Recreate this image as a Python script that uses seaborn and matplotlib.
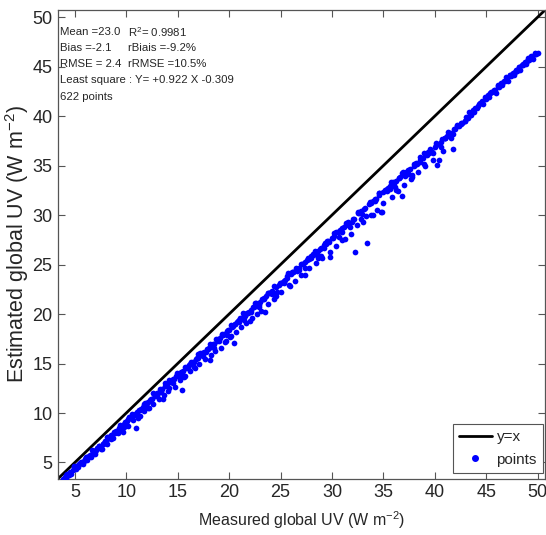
import numpy as np
import matplotlib
matplotlib.use("Agg")
import matplotlib.pyplot as plt
import seaborn as sns
import pandas as pd
from matplotlib.lines import Line2D

# Measured vs estimated global UV (W m-2)
measured_a = [
    3.8, 4.0, 4.1, 4.3, 4.5, 4.6, 4.8, 5.0, 5.1, 5.3,
    5.4, 5.6, 5.7, 5.9, 6.0, 6.2, 6.3, 6.5, 6.6, 6.8,
    6.9, 7.1, 7.2, 7.4, 7.5, 7.7, 7.8, 8.0, 8.1, 8.3,
    8.4, 8.6, 8.7, 8.9, 9.0, 9.2, 9.3, 9.5, 9.6, 9.8,
    9.9, 10.1, 10.2, 10.4, 10.5, 10.7, 10.8, 11.0, 11.1, 11.3,
    11.4, 11.6, 11.7, 11.9, 12.0, 12.2, 12.3, 12.5, 12.6, 12.8,
    12.9, 13.1, 13.2, 13.4, 13.5, 13.7, 13.8, 14.0, 14.1, 14.3,
    14.4, 14.6, 14.7, 14.9, 15.0, 15.2, 15.3, 15.5, 15.6, 15.8,
    15.9, 16.1, 16.2, 16.4, 16.5, 16.7, 16.8, 17.0, 17.1, 17.3,
    17.4, 17.6, 17.7, 17.9, 18.0, 18.2, 18.3, 18.5, 18.6, 18.8,
    18.9, 19.1, 19.2, 19.4, 19.5, 19.7, 19.8, 20.0, 20.1, 20.3,
    20.4, 20.6, 20.7, 20.9, 21.0, 21.2, 21.3, 21.5, 21.6, 21.8,
    21.9, 22.1, 22.2, 22.4, 22.5, 22.7, 22.8, 23.0, 23.1, 23.3,
    23.4, 23.6, 23.8, 24.0, 24.2, 24.4, 24.6, 24.8, 25.0, 25.2,
    25.4, 25.6, 25.8, 26.0, 26.2, 26.4, 26.6, 26.8, 27.0, 27.2,
    27.4, 27.6, 27.8, 28.0, 28.2, 28.4, 28.6, 28.8, 29.0, 29.2,
    29.4, 29.6, 29.8, 30.0, 30.2, 30.4, 30.6, 30.8, 31.0, 31.2,
    31.4, 31.6, 31.8, 32.0, 32.2, 32.4, 32.6, 32.8, 33.0, 33.2,
    33.4, 33.6, 33.8, 34.0, 34.2, 34.4, 34.6, 34.8, 35.0, 35.2,
    35.4, 35.6, 35.8, 36.0, 36.2, 36.4, 36.6, 36.8, 37.0, 37.2,
    37.4, 37.6, 37.8, 38.0, 38.2, 38.4, 38.6, 38.8, 39.0, 39.2,
    39.4, 39.6, 39.8, 40.0, 40.2, 40.4, 40.6, 40.8, 41.0, 41.2,
    41.4, 41.6, 41.8, 42.0, 42.3, 42.6, 42.9, 43.2, 43.5, 43.8,
    44.1, 44.4, 44.7, 45.0, 45.3, 45.6, 45.9, 46.2, 46.5, 46.8,
    47.1, 47.4, 47.7, 48.0, 48.3, 48.6, 48.9, 49.2, 49.5, 49.8, 50.0,
]
estimated_a = [
    3.3, 3.5, 3.4, 3.7, 4.0, 3.8, 4.2, 4.4, 4.3, 4.7,
    4.8, 5.0, 4.9, 5.2, 5.4, 5.3, 5.6, 5.8, 5.6, 6.1,
    6.2, 6.3, 6.5, 6.6, 6.4, 6.9, 7.0, 7.2, 6.9, 7.5,
    7.6, 7.8, 7.5, 8.1, 8.2, 8.0, 8.5, 8.7, 8.3, 8.9,
    9.1, 9.2, 8.7, 9.5, 9.6, 9.3, 9.9, 10.1, 9.5, 10.3,
    10.4, 10.6, 10.2, 10.9, 11.0, 10.5, 11.3, 11.4, 10.9, 11.7,
    11.8, 12.0, 11.4, 12.3, 12.4, 11.8, 12.7, 12.8, 12.2, 13.1,
    13.2, 13.4, 12.6, 13.7, 13.8, 13.3, 14.1, 14.2, 13.6, 14.5,
    14.6, 14.8, 14.2, 15.1, 15.2, 14.5, 15.5, 15.6, 15.0, 15.9,
    16.0, 16.2, 15.5, 16.5, 16.6, 15.9, 16.9, 17.0, 16.3, 17.3,
    17.4, 17.6, 16.6, 17.9, 18.0, 17.3, 18.3, 18.4, 17.7, 18.7,
    18.8, 19.0, 18.2, 19.3, 19.4, 18.7, 19.7, 19.8, 19.1, 20.1,
    20.2, 20.4, 19.6, 20.7, 20.8, 20.0, 21.0, 21.2, 20.3, 21.5,
    21.6, 21.8, 21.0, 22.1, 22.3, 21.5, 22.7, 22.9, 22.2, 23.2,
    23.4, 23.6, 22.9, 24.0, 24.2, 23.3, 24.5, 24.7, 23.9, 25.1,
    25.3, 25.5, 24.6, 25.9, 26.0, 25.2, 26.4, 26.6, 25.7, 27.0,
    27.1, 27.4, 26.3, 27.7, 27.9, 26.9, 28.3, 28.5, 27.5, 28.8,
    29.0, 29.2, 28.1, 29.6, 26.3, 29.0, 30.2, 30.4, 29.3, 30.7,
    27.2, 31.1, 30.0, 31.4, 31.6, 30.5, 32.0, 30.3, 31.2, 32.5,
    32.7, 32.9, 31.8, 33.2, 33.4, 32.4, 33.8, 31.9, 33.0, 34.3,
    34.5, 34.7, 33.8, 35.0, 35.2, 34.3, 35.6, 35.8, 35.0, 36.1,
    36.3, 36.5, 35.6, 36.9, 35.1, 37.2, 37.4, 36.5, 37.8, 38.0,
    38.2, 38.3, 36.7, 38.7, 39.0, 39.3, 39.5, 39.8, 40.1, 40.4,
    40.8, 41.3, 41.2, 41.8, 41.9, 42.4, 42.3, 42.9, 43.1, 43.5,
    43.5, 44.0, 44.1, 44.6, 44.7, 45.2, 45.3, 45.7, 45.8, 46.3, 46.4,
]

measured_b = [
    4.2, 4.4, 4.9, 5.5, 5.8, 6.1, 6.4, 6.7, 7.0, 7.3,
    7.6, 7.9, 8.2, 8.5, 8.8, 9.1, 9.4, 9.7, 10.0, 10.3,
    10.6, 10.9, 11.2, 11.5, 11.8, 12.1, 12.4, 12.7, 13.0, 13.3,
    13.6, 13.9, 14.2, 14.5, 14.8, 15.1, 15.4, 15.7, 16.0, 16.3,
    16.6, 16.9, 17.2, 17.5, 17.8, 18.1, 18.4, 18.7, 19.0, 19.3,
    19.6, 19.9, 20.2, 20.5, 20.8, 21.1, 21.4, 21.7, 22.0, 22.3,
    22.6, 22.9, 23.2, 23.5, 23.8, 24.1, 24.4, 24.7, 25.0, 25.3,
    25.6, 25.9, 26.2, 26.5, 26.8, 27.1, 27.4, 27.7, 28.0, 28.3,
    28.6, 28.9, 29.2, 29.5, 29.8, 30.1, 30.4, 30.7, 31.0, 31.3,
    31.6, 31.9, 32.5, 32.8, 33.1, 33.7, 34.0, 34.3, 34.6, 34.9,
    35.3, 35.6, 35.9, 36.2, 36.5, 36.8, 37.1, 37.4, 37.7, 38.0,
    38.3, 38.6, 38.9, 39.2, 39.5, 39.8, 40.1, 40.4, 40.7, 41.0,
    41.3, 41.6, 41.9, 42.2, 42.5, 43.0, 43.4, 43.9, 44.3, 44.6,
    44.9, 45.2, 45.5, 45.8, 46.1, 46.4, 46.7, 47.0, 47.3, 47.6,
    47.9, 48.2, 48.5, 48.8, 49.1, 49.4, 49.7,
]
estimated_b = [
    3.8, 3.7, 4.5, 4.9, 4.8, 5.6, 5.7, 6.3, 6.1, 6.7,
    6.4, 7.2, 7.6, 7.4, 8.1, 8.2, 8.8, 8.1, 9.1, 9.6,
    9.5, 8.5, 10.3, 10.4, 11.0, 10.5, 11.4, 11.9, 11.7, 12.4,
    11.4, 12.8, 13.3, 13.0, 13.7, 13.8, 12.3, 14.6, 14.5, 15.2,
    14.6, 15.6, 16.1, 15.8, 16.5, 15.4, 17.0, 17.5, 17.3, 17.9,
    17.2, 18.4, 18.9, 17.1, 19.2, 19.6, 19.4, 20.1, 19.3, 20.7,
    21.1, 20.9, 21.5, 20.2, 22.1, 22.2, 22.8, 22.2, 23.1, 23.1,
    23.8, 22.8, 24.2, 24.7, 24.4, 25.1, 23.9, 25.7, 25.7, 26.4,
    25.7, 26.7, 26.7, 27.4, 25.8, 27.7, 28.3, 27.8, 28.7, 27.6,
    29.3, 29.3, 30.3, 29.6, 30.6, 31.3, 30.0, 31.6, 32.2, 30.3,
    32.6, 32.6, 33.3, 32.5, 33.7, 34.2, 33.9, 34.6, 33.6, 35.2,
    35.2, 35.9, 35.2, 36.2, 36.7, 36.3, 37.1, 35.6, 37.7, 37.8,
    38.4, 37.8, 38.7, 39.1, 39.2, 39.9, 40.1, 40.8, 41.2, 41.4,
    41.9, 42.1, 42.4, 42.6, 43.1, 43.3, 43.5, 43.8, 44.2, 44.4,
    44.7, 45.0, 45.2, 45.5, 45.9, 46.0, 46.3,
]

measured_c = [
    4.15, 4.55, 4.95, 5.35, 5.75, 6.15, 6.55, 6.95, 7.35, 7.75,
    8.15, 8.55, 8.95, 9.35, 9.75, 10.15, 10.55, 10.95, 11.35, 11.75,
    12.15, 12.55, 12.95, 13.35, 13.75, 14.15, 14.55, 14.95, 15.35, 15.75,
    16.15, 16.55, 16.95, 17.35, 17.75, 18.15, 18.55, 18.95, 19.35, 19.75,
    20.15, 20.55, 20.95, 21.35, 21.75, 22.15, 22.55, 22.95, 23.35, 23.75,
    24.15, 24.55, 24.95, 25.35, 25.75, 26.15, 26.55, 26.95, 27.35, 27.75,
    28.15, 28.55, 28.95, 29.35, 29.75, 30.15, 30.55, 30.95, 31.35, 31.75,
    32.15, 32.55, 32.95, 33.35, 33.75, 34.15, 34.55, 34.95, 35.35, 35.75,
    36.15, 36.55, 36.95, 37.35, 37.75, 38.15, 38.55, 38.95, 39.35, 39.75,
    40.15, 40.55, 40.95, 41.35, 41.75, 42.15, 42.55, 42.95, 43.35, 43.75,
    44.15, 44.55, 44.95, 45.35, 45.75, 46.15, 46.55, 46.95, 47.35, 47.75,
    48.15, 48.55, 48.95, 49.35, 49.75,
]
estimated_c = [
    3.7, 3.9, 4.6, 4.5, 5.1, 5.6, 5.7, 5.9, 6.7, 6.9,
    7.6, 7.8, 8.0, 8.6, 8.6, 9.4, 9.9, 9.8, 9.7, 10.9,
    11.1, 12.0, 12.0, 12.1, 13.0, 12.5, 13.4, 14.0, 13.8, 13.7,
    15.0, 15.2, 16.0, 16.1, 16.2, 17.0, 16.6, 17.5, 18.0, 17.9,
    17.8, 19.0, 19.2, 20.1, 20.1, 20.2, 21.1, 20.7, 21.5, 22.1,
    22.0, 21.8, 23.1, 23.3, 24.1, 24.2, 24.3, 25.1, 24.7, 25.6,
    26.1, 26.0, 25.9, 27.2, 27.3, 28.2, 28.3, 28.3, 29.2, 28.8,
    29.6, 30.2, 30.1, 29.9, 31.2, 31.4, 32.2, 32.3, 32.4, 33.3,
    32.8, 33.7, 34.3, 34.1, 34.0, 35.3, 35.4, 36.3, 36.4, 36.4,
    37.3, 36.9, 37.8, 38.3, 38.2, 39.0, 39.3, 39.5, 40.4, 40.6,
    41.0, 41.5, 41.7, 42.3, 42.6, 43.0, 43.3, 43.9, 44.1, 44.5,
    45.0, 45.3, 45.6, 46.1, 46.4,
]

stats_left = ["Mean =23.0", "Bias =-2.1", "RMSE = 2.4",
              "Least square : Y= +0.922 X -0.309", "622 points"]
stats_right = [r"R$^2$= 0.9981", "rBiais =-9.2%", "rRMSE =10.5%"]

axis_lim = (3.35, 50.7)
ticks = [5, 10, 15, 20, 25, 30, 35, 40, 45, 50]

df = pd.DataFrame({"measured": measured_a + measured_b + measured_c,
                   "estimated": estimated_a + estimated_b + estimated_c})

sns.set_style("ticks")
plt.rcParams["font.family"] = ["Liberation Sans", "DejaVu Sans"]
plt.rcParams["mathtext.fontset"] = "custom"
plt.rcParams["mathtext.rm"] = "Liberation Sans"

fig = plt.figure(figsize=(5.46, 5.35), dpi=100)
ax = fig.add_axes([0.106, 0.105, 0.892, 0.876])

ax.axline((0, 0), slope=1, color="black", lw=2, zorder=2)
sns.scatterplot(data=df, x="measured", y="estimated", color="#0000FF",
                s=17, linewidth=0, ax=ax, zorder=3)

ax.set_xlim(axis_lim)
ax.set_ylim(axis_lim)
ax.set_xticks(ticks)
ax.set_yticks(ticks)
ax.tick_params(direction="in", top=True, right=True, length=5,
               color="#555555", labelsize=13, pad=4)
for sp in ax.spines.values():
    sp.set_color("#555555")
    sp.set_linewidth(0.9)

ax.set_xlabel(r"Measured global UV (W m$^{-2}$)", fontsize=11.5, labelpad=6)
ax.set_ylabel(r"Estimated global UV (W m$^{-2}$)", fontsize=15.5, labelpad=1)

# stats block in the top-left corner
row_y = [0.953, 0.919, 0.885, 0.851, 0.815]
for i, txt in enumerate(stats_left):
    ax.text(0.004, row_y[i], txt, transform=ax.transAxes, fontsize=8.2,
            va="center", ha="left")
for i, txt in enumerate(stats_right):
    ax.text(0.143, row_y[i], txt, transform=ax.transAxes, fontsize=8.2,
            va="center", ha="left")

handles = [
    Line2D([], [], color="black", lw=2, label="y=x"),
    Line2D([], [], color="#0000FF", marker="o", ls="none", markersize=4,
           label="points"),
]
leg = ax.legend(handles=handles, loc="lower right",
                bbox_to_anchor=(0.996, 0.013), borderaxespad=0,
                fontsize=11, fancybox=False, edgecolor="#555555",
                framealpha=1, handlelength=2.15, handletextpad=0.3,
                borderpad=0.4, labelspacing=0.55)
leg.get_frame().set_linewidth(0.8)

fig.savefig("out.png", dpi=100)
